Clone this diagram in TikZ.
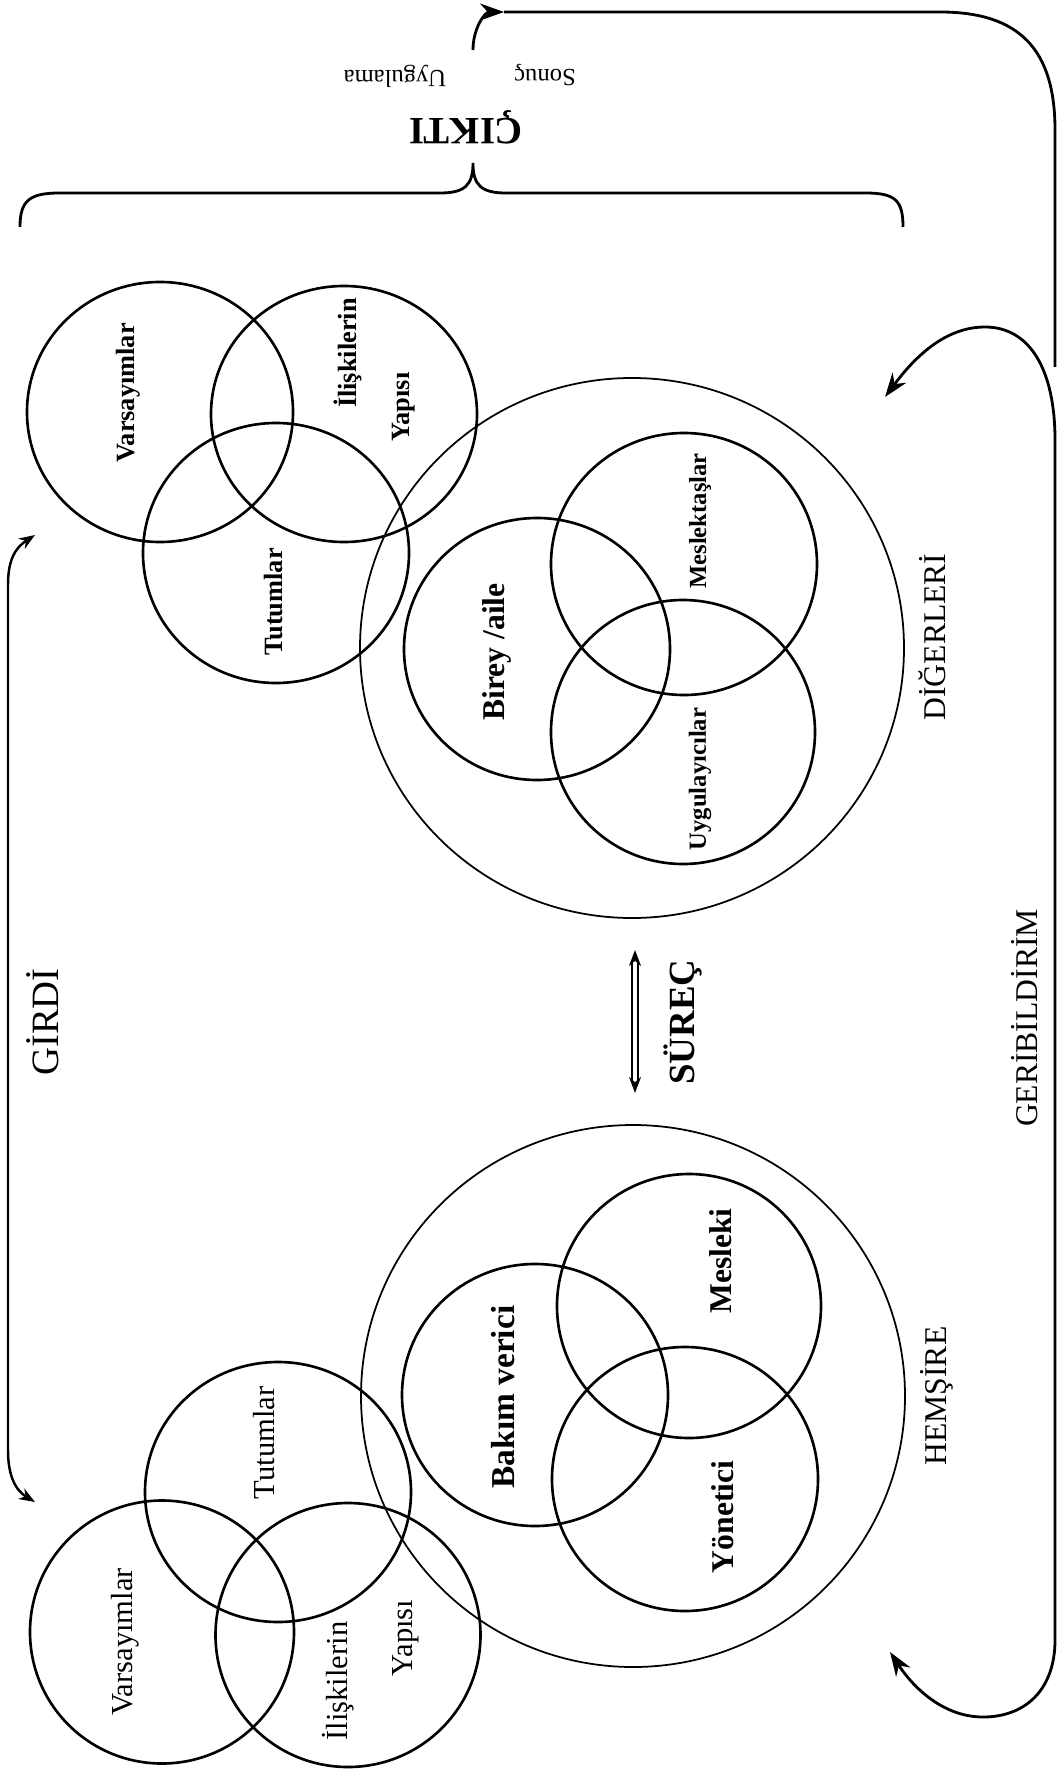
\documentclass[tikz,border=0pt]{standalone}
\usepackage{fontspec}
\setmainfont{Liberation Serif}
\usetikzlibrary{arrows.meta,shapes.geometric}

\newcommand{\labelsize}[1]{\fontsize{#1}{#1}\selectfont}

\begin{document}
\begin{tikzpicture}
            \tikzstyle{every node}+=[inner sep=0pt]
            \tikzstyle{ring}=[draw, ellipse, line width=0.75pt, outer sep=0pt]
            \tikzstyle{bigring}=[draw, ellipse, line width=0.5pt, outer sep=0pt]
            \tikzstyle{upword}=[rotate=90]
            \tikzstyle{downword}=[rotate=180]
            \tikzset{fbtip/.tip={Stealth[length=2.4mm,width=1.7mm]},
                     smalltip/.tip={Stealth[length=1.6mm,width=1.2mm]}}
            \useasboundingbox (0,0) rectangle (10.6,-17.7);
            % girdi: upper group
            \node [ring, minimum width=2.66cm, minimum height=2.60cm] (varA) at (1.60,-4.12) {};
            \node [ring, minimum width=2.66cm, minimum height=2.56cm] (iliskiA) at (3.44,-4.14) {};
            \node [ring, minimum width=2.66cm, minimum height=2.60cm] (tutumA) at (2.76,-5.53) {};
            \node [upword, font=\bfseries\labelsize{7.5}] (varAtext) at (1.28,-3.93) {Varsayımlar};
            \node [upword, font=\bfseries\labelsize{7.5}] (iliskiAtext) at (3.48,-3.53) {İlişkilerin};
            \node [upword, font=\bfseries\labelsize{7.5}] (yapiAtext) at (4.04,-4.07) {Yapısı};
            \node [upword, font=\bfseries\labelsize{7.5}] (tutumAtext) at (2.74,-6.02) {Tutumlar};
            % digerleri
            \node [bigring, minimum width=5.44cm, minimum height=5.40cm] (diger) at (6.32,-6.48) {};
            \node [ring, minimum width=2.66cm, minimum height=2.62cm] (birey) at (5.37,-6.49) {};
            \node [ring, minimum width=2.66cm, minimum height=2.62cm] (meslektas) at (6.84,-5.64) {};
            \node [ring, minimum width=2.64cm, minimum height=2.64cm] (uygulayici) at (6.83,-7.32) {};
            \node [upword, font=\bfseries\labelsize{9}] (bireytext) at (4.97,-6.52) {Birey /aile};
            \node [upword, font=\bfseries\labelsize{7}] (meslektastext) at (7.00,-5.21) {Meslektaşlar};
            \node [upword, font=\bfseries\labelsize{7}] (uygulayicitext) at (7.00,-7.79) {Uygulayıcılar};
            \node [upword, font=\labelsize{9}] (digertext) at (9.32,-6.37) {DİĞERLERİ};
            % hemsire
            \node [bigring, minimum width=5.44cm, minimum height=5.42cm] (hemsire) at (6.33,-13.96) {};
            \node [ring, minimum width=2.66cm, minimum height=2.62cm] (bakim) at (5.35,-13.95) {};
            \node [ring, minimum width=2.64cm, minimum height=2.64cm] (mesleki) at (6.89,-13.06) {};
            \node [ring, minimum width=2.66cm, minimum height=2.64cm] (yonetici) at (6.85,-14.79) {};
            \node [upword, font=\bfseries\labelsize{9.5}] (bakimtext) at (5.03,-13.97) {Bakım verici};
            \node [upword, font=\bfseries\labelsize{9}] (meslekitext) at (7.21,-12.61) {Mesleki};
            \node [upword, font=\bfseries\labelsize{9}] (yoneticitext) at (7.23,-15.17) {Yönetici};
            \node [upword, font=\labelsize{9}] (hemsiretext) at (9.37,-13.96) {HEMŞİRE};
            % girdi: lower group
            \node [ring, minimum width=2.64cm, minimum height=2.63cm] (varB) at (1.62,-16.32) {};
            \node [ring, minimum width=2.65cm, minimum height=2.64cm] (iliskiB) at (3.48,-16.35) {};
            \node [ring, minimum width=2.66cm, minimum height=2.60cm] (tutumB) at (2.78,-14.92) {};
            \node [upword, font=\labelsize{8.7}] (varBtext) at (1.25,-16.42) {Varsayımlar};
            \node [upword, font=\labelsize{8.7}] (tutumBtext) at (2.64,-14.43) {Tutumlar};
            \node [upword, font=\labelsize{8.7}] (iliskiBtext) at (3.38,-16.81) {İlişkilerin};
            \node [upword, font=\labelsize{8.7}] (yapiBtext) at (4.06,-16.38) {Yapısı};
            % titles
            \node [upword, font=\labelsize{11}] (girdi) at (0.43,-10.22) {GİRDİ};
            \node [upword, font=\bfseries\labelsize{10.5}] (surec) at (6.83,-10.22) {SÜREÇ};
            \node [upword, font=\labelsize{9}] (geribildirim) at (10.25,-10.18) {GERİBİLDİRİM};
            \node [downword, font=\bfseries\labelsize{11}] (cikti) at (4.66,-1.27) {ÇIKTI};
            \node [downword, font=\labelsize{7}] (sonuc) at (5.45,-0.75) {Sonuç};
            \node [downword, font=\labelsize{7}] (uygulama) at (3.95,-0.76) {Uygulama};
            % connectors
            \coordinate (girdiTop) at (0.35,-5.35);
            \coordinate (girdiBot) at (0.35,-15.02);
            \coordinate (surecTop) at (6.35,-9.50);
            \coordinate (surecBot) at (6.35,-10.93);
            \coordinate (ciktiFoot) at (4.73,-0.50);
            \coordinate (feedStart) at (5.04,-0.12);
            \coordinate (feedEnd) at (10.55,-3.67);
            \coordinate (digerTip) at (8.85,-3.97);
            \coordinate (hemsireTip) at (8.90,-16.52);
            \draw [line width=0.7pt, smalltip-smalltip] (girdiTop) .. controls (0.15,-5.48) and (0.08,-5.60) .. (0.08,-5.85) -- (0.08,-14.50) .. controls (0.08,-14.75) and (0.15,-14.90) .. (girdiBot);
            \draw [line width=0.6pt, double, double distance=1.2pt, smalltip-smalltip] (surecTop) -- (surecBot);
            \draw [line width=0.8pt, -fbtip] (ciktiFoot) .. controls (4.73,-0.28) and (4.85,-0.12) .. (feedStart);
            \draw [line width=0.8pt] (feedStart) -- (9.40,-0.12) .. controls (10.20,-0.12) and (10.55,-0.50) .. (10.55,-1.30) -- (feedEnd);
            \draw [line width=0.8pt, fbtip-fbtip] (digerTip) .. controls (9.20,-3.50) and (9.50,-3.27) .. (9.85,-3.27) .. controls (10.30,-3.27) and (10.55,-3.70) .. (10.55,-4.40) -- (10.55,-16.40) .. controls (10.55,-16.90) and (10.25,-17.17) .. (9.83,-17.17) .. controls (9.45,-17.17) and (9.15,-16.90) .. (hemsireTip);
            % brace under cikti
            \draw [line width=0.8pt] (0.20,-2.27) .. controls (0.20,-2.00) and (0.30,-1.93) .. (0.60,-1.93) -- (4.40,-1.93) .. controls (4.65,-1.93) and (4.73,-1.85) .. (4.73,-1.63) .. controls (4.73,-1.85) and (4.81,-1.93) .. (5.06,-1.93) -- (8.65,-1.93) .. controls (8.95,-1.93) and (9.03,-2.00) .. (9.03,-2.27);
\end{tikzpicture}
\end{document}
